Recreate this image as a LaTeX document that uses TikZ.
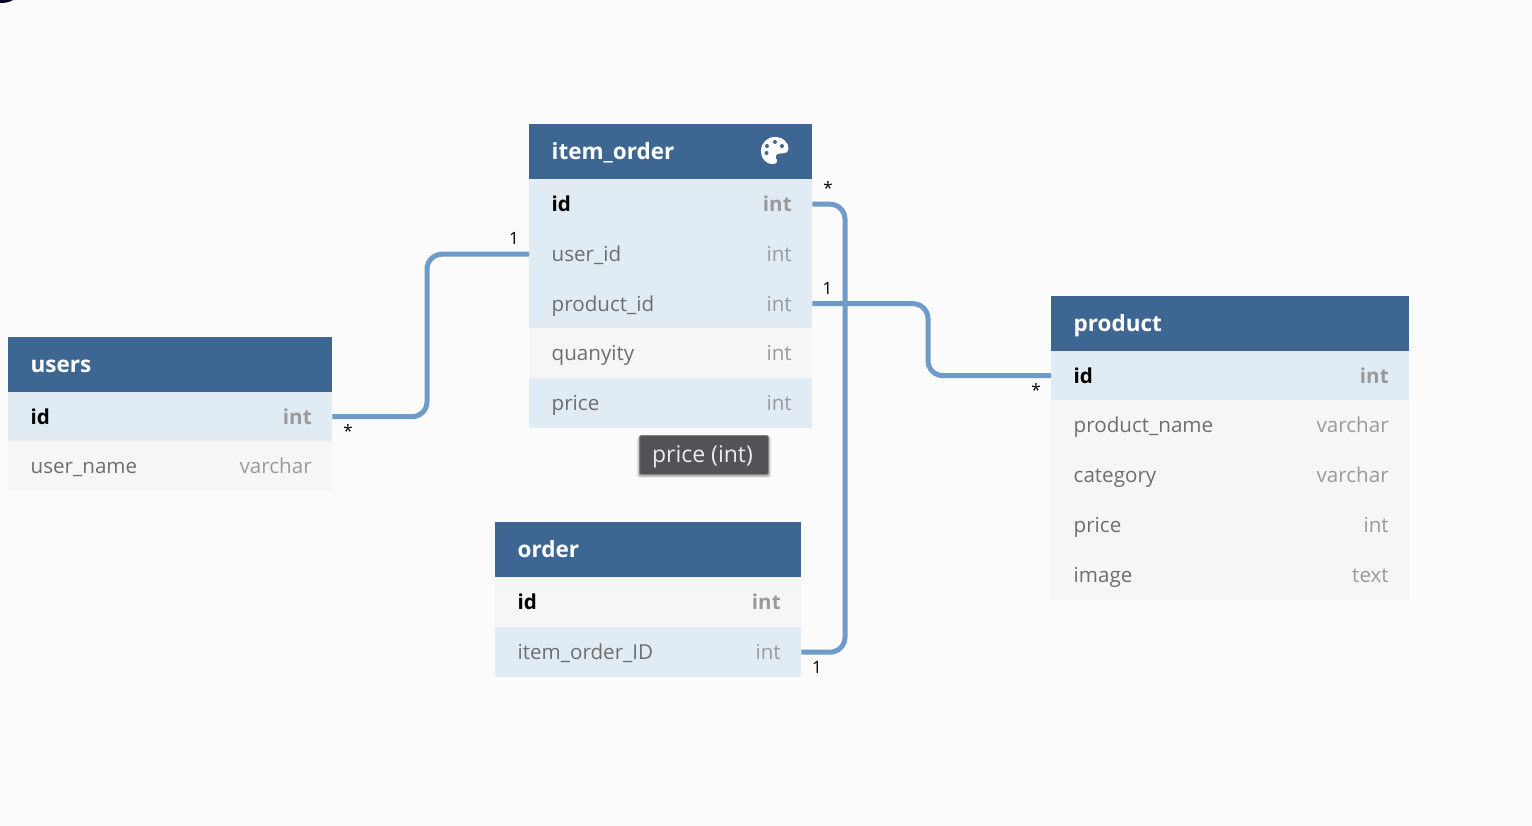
\documentclass[tikz,border=0pt]{standalone}
\usepackage{fontspec}
\setmainfont{Open Sans}
\usetikzlibrary{shadows}
\definecolor{headblue}{HTML}{3E6692}
\definecolor{rowblue}{HTML}{E1EBF3}
\definecolor{rowgray}{HTML}{F6F6F6}
\definecolor{linkblue}{HTML}{6E9BC9}
\definecolor{tipgray}{HTML}{545257}
\definecolor{namegray}{HTML}{6E6E6E}
\definecolor{typegray}{HTML}{9A9A9A}
\tikzset{
	tablehead/.style={anchor=north west, fill=headblue, text=white, font=\fontsize{22.5}{26}\selectfont\bfseries, align=left, inner xsep=22.5pt, inner ysep=0pt, minimum height=55pt, text height=21pt, text depth=5pt},
	tablerow/.style={anchor=north west, text=namegray, font=\fontsize{20.6}{25}\selectfont, align=left, inner xsep=22.5pt, inner ysep=0pt, minimum height=50pt, text height=20pt, text depth=5pt},
	rowtype/.style={anchor=base east, text=typegray, font=\fontsize{20.6}{25}\selectfont, inner sep=0pt},
	keyrow/.style={text=black, font=\fontsize{20.6}{25}\selectfont\bfseries},
	relation/.style={draw=linkblue, line width=5pt, rounded corners=15pt},
	cardinal/.style={font=\fontsize{17}{20}\selectfont, text=black, inner sep=0pt},
	softshadow/.style={general shadow={shadow xshift=0pt, shadow yshift=-2pt, shadow scale=#1, opacity=0.09, fill=black}}
}
% table head: name, left, top, width, text
\newcommand{\dbhead}[5]{
	\node[tablehead, text width=#4pt-45pt] (#1) at (#2,#3) {#5};
}
% table row: [style], name, left, top, width, colour, text, type
\newcommand{\dbrow}[8][]{
	\node[tablerow, fill=#6, text width=#5pt-45pt, #1] (#2) at (#3,#4) {#7};
	\node[rowtype, #1, text=typegray] (#2type) at ([xshift=-20.5pt]#2.base east) {#8};
}
\begin{document}
\begin{tikzpicture}[x=1pt,y=-1pt]
	\useasboundingbox (0,0) rectangle (1532,826);
	\fill[white!98.5!black] (0,0) rectangle (1532,826);
	\fill[black!85!blue] (0,0) -- (13,0) .. controls (10,2) and (6,3) .. (0,3) -- cycle;

	% relations go under the tables
	\coordinate (leftbend) at (427,330);
	\coordinate (midbend) at (845,420);
	\coordinate (rightbend) at (928,340);

	% users
	\dbhead{usershead}{8}{337}{324}{users}
	\dbrow[keyrow]{usersid}{8}{391.5}{324}{rowblue}{id}{int}
	\dbrow{usersname}{8}{441}{324}{rowgray}{user\_name}{varchar}

	% item_order
	\dbhead{itemhead}{529}{124}{283}{item\_order}
	\dbrow[keyrow]{itemid}{529}{179}{283}{rowblue}{id}{int}
	\dbrow{itemuser}{529}{229}{283}{rowblue}{user\_id}{int}
	\dbrow{itemproduct}{529}{278.5}{283}{rowblue}{product\_id}{int}
	\dbrow{itemquanyity}{529}{328}{283}{rowgray}{quanyity}{int}
	\dbrow{itemprice}{529}{378}{283}{rowblue}{price}{int}
	\fill[white] (773,164) .. controls (765,164) and (761,158) .. (761,151)
		.. controls (761,143) and (767,137) .. (775,137)
		.. controls (783,137) and (789,143) .. (788.5,149)
		.. controls (788,153) and (784,153.5) .. (781,153.5)
		.. controls (777,153.5) and (775,155) .. (776,158)
		.. controls (778,161) and (777,164) .. (773,164) -- cycle;
	\foreach \dotx/\doty in {767/146, 775/142, 782/146, 766.5/153}
		\fill[headblue] (\dotx,\doty) circle (2pt);

	% order
	\dbhead{orderhead}{495}{522}{306}{order}
	\dbrow[keyrow]{orderid}{495}{577}{306}{rowgray}{id}{int}
	\dbrow{orderitem}{495}{627}{306}{rowblue}{item\_order\_ID}{int}

	% product
	\dbhead{producthead}{1051}{296}{358}{product}
	\dbrow[keyrow]{productid}{1051}{350.5}{358}{rowblue}{id}{int}
	\dbrow{productname}{1051}{400}{358}{rowgray}{product\_name}{varchar}
	\dbrow{productcategory}{1051}{450}{358}{rowgray}{category}{varchar}
	\dbrow{productprice}{1051}{500}{358}{rowgray}{price}{int}
	\dbrow{productimage}{1051}{549.5}{358}{rowgray}{image}{text}

	\draw[relation] (usersid.east) -| (leftbend) |- (itemuser.west);
	\draw[relation] (itemid.east) -| (midbend) |- (orderitem.east);
	\draw[relation] (itemproduct.east) -| (rightbend) |- (productid.west);

	\node[cardinal] (usersstar) at (348,431) {*};
	\node[cardinal] (itemone) at (514,238) {1};
	\node[cardinal] (itemstar) at (828,188) {*};
	\node[cardinal] (productone) at (827.5,288) {1};
	\node[cardinal] (productstar) at (1036,390) {*};
	\node[cardinal] (orderone) at (817,667) {1};

	% tooltip
	\node[fill=tipgray, draw=gray, line width=1pt, rounded corners=2pt, text=white!92!black, minimum width=129pt, minimum height=39pt, inner sep=0pt, text height=19pt, text depth=5pt, font=\fontsize{23}{27}\selectfont, softshadow=1.04, softshadow=1.025, softshadow=1.01] (pricetip) at (704,455) {price (int)\hspace*{3pt}};
\end{tikzpicture}
\end{document}
